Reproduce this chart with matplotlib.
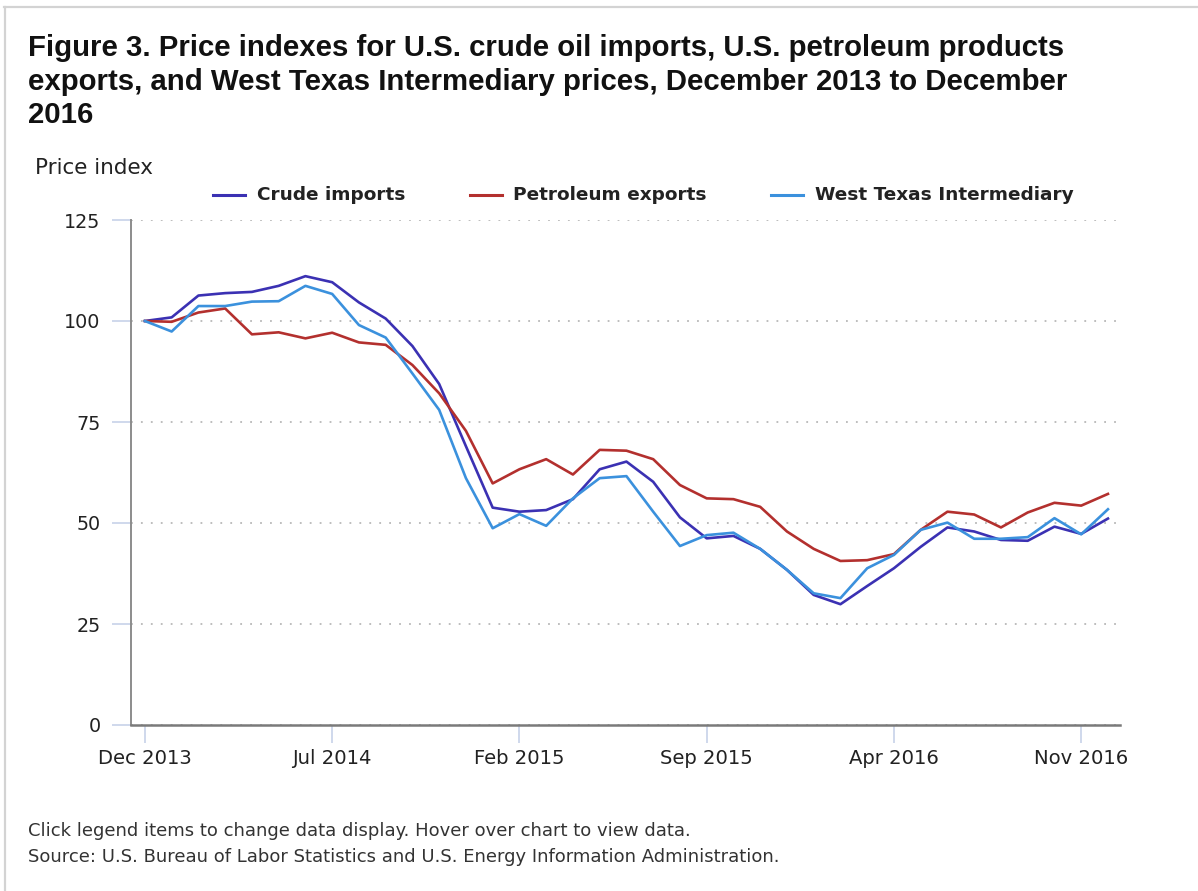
import matplotlib
matplotlib.use("Agg")
import matplotlib.pyplot as plt
from matplotlib.lines import Line2D

# ---- data ----
month_names = ["Jan", "Feb", "Mar", "Apr", "May", "Jun", "Jul", "Aug", "Sep", "Oct", "Nov", "Dec"]
months = [f"{month_names[(11 + i) % 12]} {2013 + (11 + i) // 12}" for i in range(37)]

crude_imports = [100.0, 100.9, 106.3, 106.9, 107.2, 108.7, 111.1, 109.6, 104.6, 100.6,
                 93.8, 84.4, 69.0, 53.8, 52.8, 53.2, 55.9, 63.3, 65.2, 60.2,
                 51.4, 46.2, 46.8, 43.6, 38.4, 32.2, 29.9, 34.4, 38.8, 44.1,
                 48.9, 47.9, 45.8, 45.6, 49.1, 47.3, 51.1]
petroleum_exports = [100.0, 99.8, 102.1, 103.1, 96.7, 97.2, 95.7, 97.1, 94.7, 94.1,
                     89.1, 82.1, 72.8, 59.8, 63.3, 65.8, 62.0, 68.1, 67.9, 65.8,
                     59.4, 56.1, 55.9, 54.0, 47.9, 43.6, 40.6, 40.8, 42.3, 48.3,
                     52.8, 52.1, 48.9, 52.6, 55.0, 54.3, 57.2]
wti = [100.0, 97.4, 103.7, 103.7, 104.8, 104.9, 108.7, 106.7, 99.0, 95.9,
       87.0, 78.0, 61.1, 48.7, 52.2, 49.3, 56.1, 61.1, 61.6, 52.8,
       44.3, 47.0, 47.6, 43.6, 38.4, 32.6, 31.4, 38.8, 42.1, 48.3,
       50.1, 46.1, 46.1, 46.5, 51.2, 47.2, 53.4]

series_names = ["Crude imports", "Petroleum exports", "West Texas Intermediary"]
series_colors = ["#3b31b3", "#b3302e", "#3b91dd"]
y_ticks = [0, 25, 50, 75, 100, 125]
x_tick_step = 7

# ---- figure ----
W, H = 1198, 891
fig = plt.figure(figsize=(W / 100, H / 100), dpi=100)
fig.patch.set_facecolor("white")

def fx(px):
    return px / W

def fy(py):
    return 1 - py / H

# page border (top & left)
fig.add_artist(Line2D([fx(4), fx(1198)], [fy(7), fy(7)], color="#d3d3d3", lw=1.6))
fig.add_artist(Line2D([fx(4.5), fx(4.5)], [fy(7), fy(891)], color="#d3d3d3", lw=1.6))

title_lines = ["Figure 3. Price indexes for U.S. crude oil imports, U.S. petroleum products",
               "exports, and West Texas Intermediary prices, December 2013 to December",
               "2016"]
for k, line in enumerate(title_lines):
    fig.text(fx(28), fy(48 + 33.5 * k), line, fontsize=21.2, fontweight="bold",
             family="Liberation Sans", color="#111111", va="center", ha="left")

body_font = "DejaVu Sans"

ax = fig.add_axes([fx(131), fy(725), fx(1120) - fx(131), fy(220) - fy(725)])
x = list(range(len(months)))
for vals, name, col in zip([crude_imports, petroleum_exports, wti], series_names, series_colors):
    ax.plot(x, vals, color=col, lw=1.9, label=name, solid_joinstyle="round", zorder=3)

ax.set_xlim(-0.52, 36.45)
ax.set_ylim(0, 125)
ax.set_yticks(y_ticks)
ax.set_yticklabels([str(v) for v in y_ticks], family=body_font, fontsize=13.8, color="#222222")
ax.yaxis.grid(True, linestyle=(0, (1, 4.5)), color="#b8b8b8", lw=1.3)
ax.set_axisbelow(True)
ax.tick_params(axis="y", length=14, width=1.3, color="#ccd6eb", pad=8)

xt = list(range(0, len(months), x_tick_step))
ax.set_xticks(xt)
ax.set_xticklabels([months[i] for i in xt], family=body_font, fontsize=14.1, color="#222222")
ax.tick_params(axis="x", length=13, width=1.3, color="#ccd6eb", pad=4)

for s in ["top", "right"]:
    ax.spines[s].set_visible(False)
ax.spines["left"].set_color("#8c8c8c")
ax.spines["left"].set_linewidth(1.4)
ax.spines["bottom"].set_color("#7a7a7a")
ax.spines["bottom"].set_linewidth(1.8)
ax.spines["bottom"].set_zorder(4)

fig.text(fx(35), fy(168), "Price index", family=body_font, fontsize=15.5,
         color="#222222", va="center", ha="left")

# legend
leg_items = [(213, 257), (470, 513), (771, 815)]
for (lx, tx), name, col in zip(leg_items, series_names, series_colors):
    fig.add_artist(Line2D([fx(lx), fx(lx + 32)], [fy(195), fy(195)], color=col, lw=2.2))
    fig.text(fx(tx), fy(195), name, family=body_font, fontsize=13.3, fontweight="bold",
             color="#222222", va="center", ha="left")

fig.text(fx(28), fy(831), "Click legend items to change data display. Hover over chart to view data.",
         family=body_font, fontsize=13.0, color="#333333", va="center", ha="left")
fig.text(fx(28), fy(857), "Source: U.S. Bureau of Labor Statistics and U.S. Energy Information Administration.",
         family=body_font, fontsize=13.0, color="#333333", va="center", ha="left")

fig.savefig("out.png", dpi=100, facecolor="white")
